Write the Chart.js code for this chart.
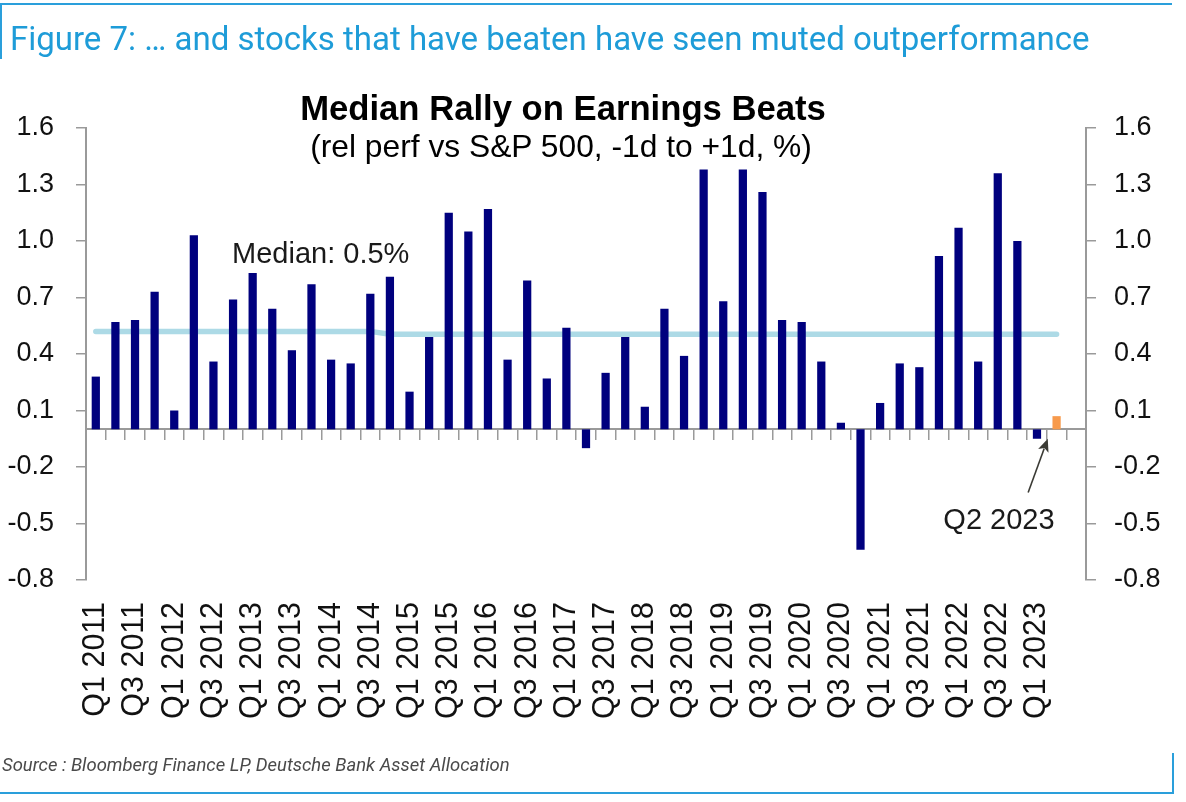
<!DOCTYPE html>
<html>
<head>
<meta charset="utf-8">
<script src="https://cdn.jsdelivr.net/npm/chart.js@4.4.0/dist/chart.umd.min.js"></script>
<style>
  html, body { margin: 0; padding: 0; background: #ffffff; }
  #wrap { position: relative; width: 1186px; height: 802px; overflow: hidden; background: #ffffff; }
  #c { position: absolute; left: 0; top: 0; }
  .txt { position: absolute; left: 0; top: 0; white-space: nowrap; line-height: 1.2; }
  .bl { display: inline-block; width: 0; height: 0; vertical-align: baseline; }
  #figTitle { font-family: Roboto, "Liberation Sans", sans-serif; color: #1E9CD8; }
  #chartTitle { font-family: "Liberation Sans", Arial, sans-serif; font-weight: bold; color: #000; }
  #chartSub { font-family: "Liberation Sans", Arial, sans-serif; color: #000; }
  #source { font-family: Roboto, "Liberation Sans", sans-serif; font-style: italic; color: #4a4a4a; }
  .rule { position: absolute; background: #2A9FDB; }
</style>
</head>
<body>
<div id="wrap">
  <canvas id="c" width="1186" height="802"></canvas>
  <div class="rule" style="left:0;top:3px;width:1172px;height:2px;"></div>
  <div class="rule" style="left:0;top:3px;width:2px;height:56px;"></div>
  <div class="rule" style="left:0;top:792px;width:1174px;height:2px;"></div>
  <div class="rule" style="left:1172px;top:753px;width:2px;height:41px;"></div>
  <div class="txt" id="figTitle">Figure 7: … and stocks that have beaten have seen muted outperformance<span class="bl"></span></div>
  <div class="txt" id="chartTitle">Median Rally on Earnings Beats<span class="bl"></span></div>
  <div class="txt" id="chartSub">(rel perf vs S&amp;P 500, -1d to +1d, %)<span class="bl"></span></div>
  <div class="txt" id="source">Source : Bloomberg Finance LP, Deutsche Bank Asset Allocation<span class="bl"></span></div>
</div>
<script>
// ---------------- data ----------------
const quarters = [
  'Q1 2011','Q2 2011','Q3 2011','Q4 2011',
  'Q1 2012','Q2 2012','Q3 2012','Q4 2012',
  'Q1 2013','Q2 2013','Q3 2013','Q4 2013',
  'Q1 2014','Q2 2014','Q3 2014','Q4 2014',
  'Q1 2015','Q2 2015','Q3 2015','Q4 2015',
  'Q1 2016','Q2 2016','Q3 2016','Q4 2016',
  'Q1 2017','Q2 2017','Q3 2017','Q4 2017',
  'Q1 2018','Q2 2018','Q3 2018','Q4 2018',
  'Q1 2019','Q2 2019','Q3 2019','Q4 2019',
  'Q1 2020','Q2 2020','Q3 2020','Q4 2020',
  'Q1 2021','Q2 2021','Q3 2021','Q4 2021',
  'Q1 2022','Q2 2022','Q3 2022','Q4 2022',
  'Q1 2023','Q2 2023',''
];
const medianRally = [
  0.28, 0.57, 0.58, 0.73,
  0.10, 1.03, 0.36, 0.69,
  0.83, 0.64, 0.42, 0.77,
  0.37, 0.35, 0.72, 0.81,
  0.20, 0.49, 1.15, 1.05,
  1.17, 0.37, 0.79, 0.27,
  0.54, -0.10, 0.30, 0.49,
  0.12, 0.64, 0.39, 1.38,
  0.68, 1.38, 1.26, 0.58,
  0.57, 0.36, 0.035, -0.64,
  0.14, 0.35, 0.33, 0.92,
  1.07, 0.36, 1.36, 1.00,
  -0.05, 0.07, null
];
const medianLine = [
  0.52, 0.52, 0.52, 0.52,
  0.52, 0.52, 0.52, 0.52,
  0.52, 0.52, 0.52, 0.52,
  0.52, 0.52, 0.52, 0.505,
  0.505, 0.505, 0.505, 0.505,
  0.505, 0.505, 0.505, 0.505,
  0.505, 0.505, 0.505, 0.505,
  0.505, 0.505, 0.505, 0.505,
  0.505, 0.505, 0.505, 0.505,
  0.505, 0.505, 0.505, 0.505,
  0.505, 0.505, 0.505, 0.505,
  0.505, 0.505, 0.505, 0.505,
  0.505, 0.505, null
];
const highlightQuarter = 'Q2 2023';
const yTicksMin = -0.8, yTicksMax = 1.6, yTicksStep = 0.3;
const medianLabel = 'Median: 0.5%';
const arrowLabel = 'Q2 2023';

// ---------------- text placement ----------------
function place(id, o) {
  const el = document.getElementById(id);
  if (o.fitWidth) {
    el.style.fontSize = '100px';
    const w = el.getBoundingClientRect().width;
    el.style.fontSize = (100 * o.fitWidth / w) + 'px';
  } else {
    el.style.fontSize = o.size + 'px';
  }
  const r = el.getBoundingClientRect();
  const b = el.querySelector('.bl').getBoundingClientRect().top - r.top;
  let x;
  if (o.left !== undefined) x = o.left;
  else if (o.center !== undefined) x = o.center - r.width / 2;
  else x = o.right - r.width;
  el.style.left = x + 'px';
  el.style.top = (o.baseline - b) + 'px';
}
place('figTitle',  { fitWidth: 1080, left: 10, baseline: 50 });
place('chartTitle', { fitWidth: 526, center: 563, baseline: 120 });
place('chartSub',  { fitWidth: 502, center: 561, baseline: 157 });
place('source',    { fitWidth: 508, left: 2, baseline: 771 });

// ---------------- chart ----------------
const NAVY = '#00007E';
const ORANGE = '#F79A4C';
const AXIS = '#9A9A9A';
const highlightIndex = quarters.indexOf(highlightQuarter);

const annotations = {
  id: 'annotations',
  afterDatasetsDraw(chart) {
    const ctx = chart.ctx, x = chart.scales.x, y = chart.scales.y;
    ctx.save();
    ctx.fillStyle = '#1a1a1a';
    ctx.font = '29px "Liberation Sans", Arial, sans-serif';
    ctx.textBaseline = 'alphabetic';
    ctx.textAlign = 'left';
    ctx.fillText(medianLabel, x.getPixelForValue(7) - 1, y.getPixelForValue(0.885));
    ctx.textAlign = 'right';
    ctx.fillText(arrowLabel, x.getPixelForValue(highlightIndex) - 2, y.getPixelForValue(-0.53));
    // arrow
    const tx = (x.getPixelForValue(highlightIndex - 1) + x.getPixelForValue(highlightIndex)) / 2 + 1;
    const ty = y.getPixelForValue(-0.05);
    const sx = x.getPixelForValue(highlightIndex - 1.45);
    const sy = y.getPixelForValue(-0.335);
    const ang = Math.atan2(ty - sy, tx - sx);
    const head = 13, hw = 5.5;
    ctx.strokeStyle = '#3b3b35';
    ctx.fillStyle = '#3b3b35';
    ctx.lineWidth = 1.6;
    ctx.beginPath();
    ctx.moveTo(sx, sy);
    ctx.lineTo(tx - Math.cos(ang) * head * 0.8, ty - Math.sin(ang) * head * 0.8);
    ctx.stroke();
    ctx.beginPath();
    ctx.moveTo(tx, ty);
    ctx.lineTo(tx - Math.cos(ang) * head - Math.sin(ang) * hw, ty - Math.sin(ang) * head + Math.cos(ang) * hw);
    ctx.lineTo(tx - Math.cos(ang) * head * 0.75, ty - Math.sin(ang) * head * 0.75);
    ctx.lineTo(tx - Math.cos(ang) * head + Math.sin(ang) * hw, ty - Math.sin(ang) * head - Math.cos(ang) * hw);
    ctx.closePath();
    ctx.fill();
    ctx.restore();
  }
};

const yTickCommon = {
  color: '#111',
  font: { family: '"Liberation Sans", Arial, sans-serif', size: 27 },
  stepSize: yTicksStep,
  autoSkip: false,
  padding: 22,
  callback: v => Number(v).toFixed(1)
};

new Chart(document.getElementById('c'), {
  data: {
    labels: quarters,
    datasets: [
      {
        type: 'bar',
        label: 'Median rally on earnings beats',
        data: medianRally,
        backgroundColor: c => c.dataIndex === highlightIndex ? ORANGE : NAVY,
        borderWidth: 0,
        categoryPercentage: 1.0,
        barPercentage: 0.42,
        order: 1
      },
      {
        type: 'line',
        label: 'Median',
        data: medianLine,
        borderColor: '#ADDAE6',
        borderWidth: 5.5,
        borderCapStyle: 'round',
        pointRadius: 0,
        tension: 0,
        spanGaps: false,
        order: 2
      }
    ]
  },
  options: {
    responsive: false,
    animation: false,
    devicePixelRatio: 1,
    layout: { padding: { left: 0, right: 0, top: 128, bottom: 0 } },
    plugins: { legend: { display: false }, tooltip: { enabled: false }, title: { display: false } },
    scales: {
      x: {
        type: 'category',
        position: 'bottom',
        offset: true,
        grid: { display: false, drawTicks: false },
        border: { display: false },
        ticks: {
          autoSkip: false,
          maxRotation: 90,
          minRotation: 90,
          padding: 22,
          color: '#111',
          font: { family: '"Liberation Sans", Arial, sans-serif', size: 30.5 },
          callback: (v, i) => (i % 2 === 0 ? quarters[i] : '')
        },
        afterFit: s => { s.height = 222; }
      },
      x0: {
        type: 'category',
        position: { y: 0 },
        offset: true,
        grid: { offset: true, drawOnChartArea: false, drawTicks: true, tickLength: 10, color: AXIS, lineWidth: 1.5 },
        border: { display: true, color: AXIS, width: 2 },
        ticks: { display: false, autoSkip: false }
      },
      y: {
        type: 'linear',
        position: 'left',
        min: yTicksMin,
        max: yTicksMax,
        grid: { drawOnChartArea: false, drawTicks: true, tickLength: 10, color: AXIS, lineWidth: 1.5 },
        border: { display: true, color: AXIS, width: 2 },
        ticks: yTickCommon,
        afterFit: s => { s.width = 86; }
      },
      y2: {
        type: 'linear',
        position: 'right',
        min: yTicksMin,
        max: yTicksMax,
        grid: { drawOnChartArea: false, drawTicks: true, tickLength: 10, color: AXIS, lineWidth: 1.5 },
        border: { display: true, color: AXIS, width: 2 },
        ticks: Object.assign({}, yTickCommon, { padding: 18 }),
        afterFit: s => { s.width = 100; }
      }
    }
  },
  plugins: [annotations]
});
</script>
</body>
</html>
